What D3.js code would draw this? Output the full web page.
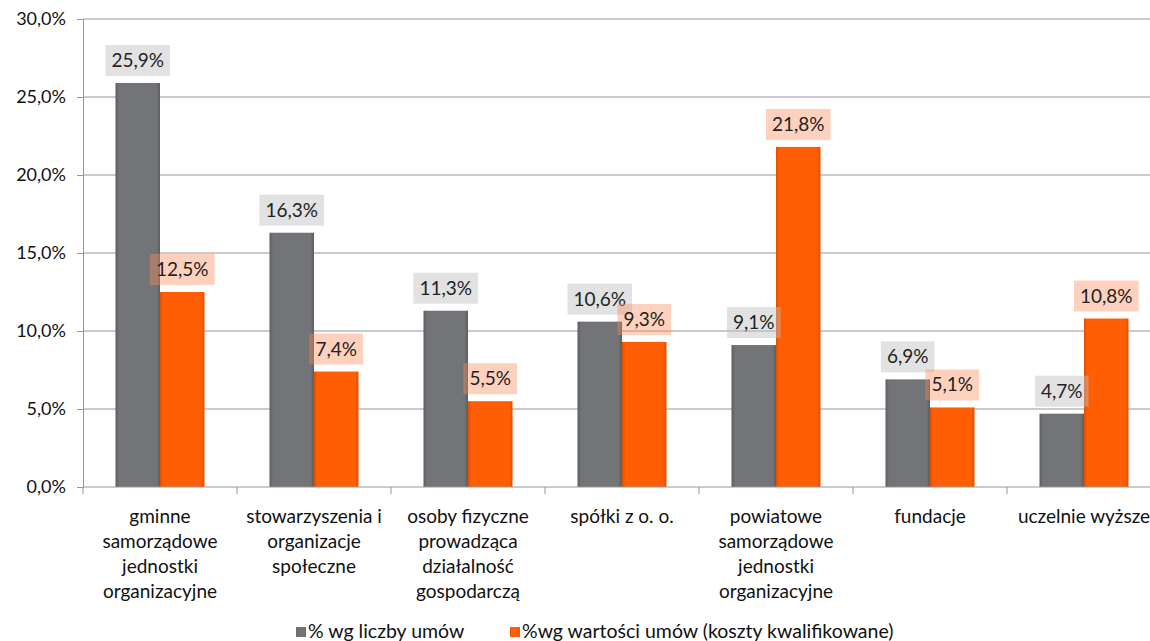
<!DOCTYPE html>
<html>
<head>
<meta charset="utf-8">
<script src="https://cdn.jsdelivr.net/npm/d3@7"></script>
<style>
  html, body { margin: 0; padding: 0; background: #fff; overflow: hidden; }
  svg { display: block; font-family: Lato, "Open Sans", sans-serif; }
</style>
</head>
<body>
<svg id="chart" width="1150" height="641"></svg>
<script>
// data
const categories = [
  ['gminne', 'samorządowe', 'jednostki', 'organizacyjne'],
  ['stowarzyszenia i', 'organizacje', 'społeczne'],
  ['osoby fizyczne', 'prowadząca', 'działalność', 'gospodarczą'],
  ['spółki z o. o.'],
  ['powiatowe', 'samorządowe', 'jednostki', 'organizacyjne'],
  ['fundacje'],
  ['uczelnie wyższe']
];
const seriesNames = ['% wg liczby umów', '%wg wartości umów (koszty kwalifikowane)'];
const byCount = [25.9, 16.3, 11.3, 10.6, 9.1, 6.9, 4.7];
const byValue = [12.5, 7.4, 5.5, 9.3, 21.8, 5.1, 10.8];
const yTicks = [0, 5, 10, 15, 20, 25, 30];

const svg = d3.select('#chart');
const width = 1150;
const margin = { top: 19, left: 83, bottom: 487, right: 1161 };
const fmt = v => d3.format('.1f')(v).replace('.', ',') + '%';

const rows = categories.map((c, i) => ({ key: i, lines: c, values: [byCount[i], byValue[i]] }));

const x0 = d3.scaleBand()
  .domain(rows.map(d => d.key))
  .range([margin.left, margin.right]);

const x1 = d3.scaleBand()
  .domain([0, 1])
  .range([0, x0.bandwidth()])
  .paddingOuter(0.73);

const y = d3.scaleLinear()
  .domain([0, 30])
  .range([margin.bottom, margin.top]);

// gradients for bevelled bars
const defs = svg.append('defs');
const grads = [
  { id: 'gGray', edge: '#5c5d61', mid: '#727478' },
  { id: 'gOrange', edge: '#e24f00', mid: '#ff5e05' }
];
grads.forEach(g => {
  const lg = defs.append('linearGradient').attr('id', g.id)
    .attr('x1', 0).attr('x2', 1).attr('y1', 0).attr('y2', 0);
  lg.append('stop').attr('offset', '0%').attr('stop-color', g.edge);
  lg.append('stop').attr('offset', '8%').attr('stop-color', g.mid);
  lg.append('stop').attr('offset', '92%').attr('stop-color', g.mid);
  lg.append('stop').attr('offset', '100%').attr('stop-color', g.edge);
});
const fills = ['url(#gGray)', 'url(#gOrange)'];
const labelBg = ['rgba(190,190,190,0.45)', 'rgba(249,140,90,0.4)'];

// gridlines
svg.append('g')
  .selectAll('line')
  .data(yTicks.filter(t => t > 0))
  .join('line')
  .attr('x1', margin.left).attr('x2', width)
  .attr('y1', d => y(d)).attr('y2', d => y(d))
  .attr('stroke', '#969696').attr('stroke-width', 1);

// y axis
const yAxis = svg.append('g')
  .attr('transform', `translate(${margin.left},0)`)
  .call(d3.axisLeft(y).tickValues(yTicks).tickFormat(fmt).tickSize(6).tickPadding(11));
yAxis.select('.domain').attr('stroke', '#969696');
yAxis.selectAll('.tick line').attr('stroke', '#969696');
yAxis.selectAll('.tick text').attr('font-size', 18).attr('fill', '#111')
  .attr('font-family', 'Lato, sans-serif');

// bars
const groups = svg.append('g')
  .selectAll('g')
  .data(rows)
  .join('g')
  .attr('transform', d => `translate(${x0(d.key)},0)`);

groups.selectAll('rect')
  .data(d => d.values.map((v, s) => ({ s, v })))
  .join('rect')
  .attr('x', d => x1(d.s))
  .attr('width', x1.bandwidth())
  .attr('y', d => y(d.v))
  .attr('height', d => y(0) - y(d.v))
  .attr('fill', d => fills[d.s]);

// x axis line + ticks at category boundaries
svg.append('line')
  .attr('x1', margin.left).attr('x2', width)
  .attr('y1', y(0)).attr('y2', y(0))
  .attr('stroke', '#969696');
svg.append('g')
  .selectAll('line')
  .data(rows)
  .join('line')
  .attr('x1', d => x0(d.key)).attr('x2', d => x0(d.key))
  .attr('y1', y(0)).attr('y2', y(0) + 7)
  .attr('stroke', '#969696');

// category labels
const catLabels = svg.append('g')
  .selectAll('text')
  .data(rows)
  .join('text')
  .attr('text-anchor', 'middle')
  .attr('font-size', 19)
  .attr('fill', '#111')
  .attr('transform', d => `translate(${x0(d.key) + x0.bandwidth() / 2},523)`);
catLabels.selectAll('tspan')
  .data(d => d.lines)
  .join('tspan')
  .attr('x', 0)
  .attr('y', (d, i) => i * 25)
  .text(d => d);

// value labels (count series first, value series drawn on top)
[0, 1].forEach(s => {
  const lab = svg.append('g')
    .selectAll('g')
    .data(rows)
    .join('g')
    .attr('transform', d => `translate(${x0(d.key) + x1(s) + x1.bandwidth() / 2},${y(d.values[s]) - 7})`);
  const rect = lab.append('rect').attr('fill', labelBg[s]);
  const txt = lab.append('text')
    .attr('text-anchor', 'middle')
    .attr('font-size', 19)
    .attr('fill', '#222')
    .attr('y', -9)
    .text(d => fmt(d.values[s]));
  txt.each(function () {
    const w = this.getComputedTextLength() + 12;
    d3.select(this.previousSibling)
      .attr('x', -w / 2).attr('width', w)
      .attr('y', -31).attr('height', 31);
  });
});

// legend
const legend = svg.append('g').attr('transform', 'translate(296,632)');
const legX = [0, 214];
seriesNames.forEach((name, s) => {
  const g = legend.append('g').attr('transform', `translate(${legX[s]},0)`);
  g.append('rect').attr('x', 0).attr('y', -5).attr('width', 10).attr('height', 10)
    .attr('fill', fills[s]);
  g.append('text').attr('x', 12).attr('y', 6).attr('font-size', 19.5).attr('fill', '#111').text(name);
});
</script>
</body>
</html>
